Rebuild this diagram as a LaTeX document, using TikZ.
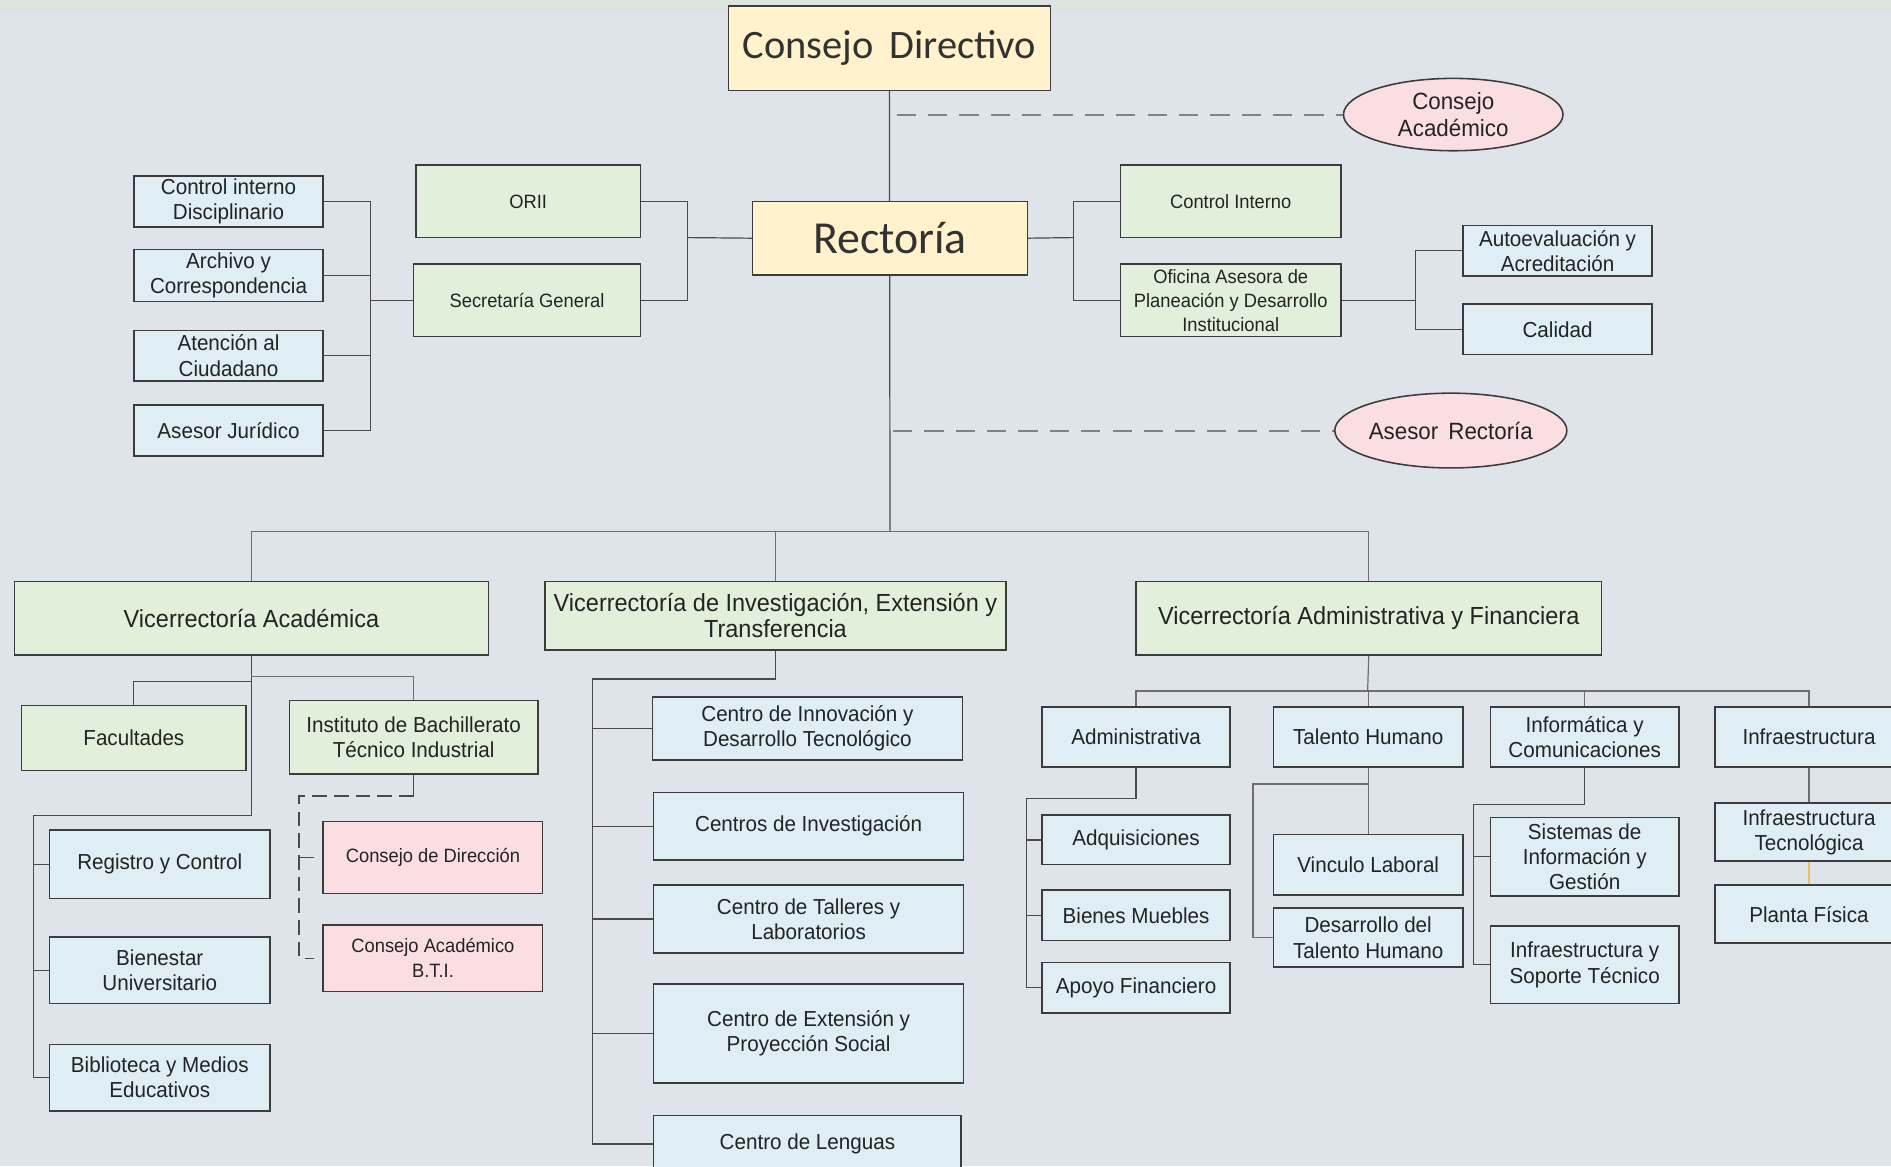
\documentclass[tikz,border=0pt]{standalone}
\usepackage{fontspec}
\setmainfont[FakeStretch=0.95]{Liberation Sans}
\newfontfamily\calfont{Carlito}
\usetikzlibrary{shapes.geometric}
\definecolor{bgc}{RGB}{223,227,234}
\definecolor{topc}{RGB}{220,229,221}
\definecolor{yel}{RGB}{255,242,204}
\definecolor{grn}{RGB}{226,239,218}
\definecolor{blu}{RGB}{222,238,244}
\definecolor{pnk}{RGB}{250,222,226}
\definecolor{edgec}{RGB}{60,60,60}
\definecolor{lnc}{RGB}{75,75,75}
\definecolor{lnl}{RGB}{110,110,110}
\definecolor{dshc}{RGB}{130,130,130}
\definecolor{txt}{RGB}{35,35,35}
\definecolor{orc}{RGB}{240,190,90}
\pgfdeclarelayer{canvas}
\pgfdeclarelayer{lines}
\pgfsetlayers{canvas,lines,main}
\newcommand\bx[7]{\node[#2, minimum width={(#5)-(#3)}, minimum height={(#6)-(#4)}] (#1) at ({((#3)+(#5))/2},{((#4)+(#6))/2}) {#7};}
\begin{document}
\begin{tikzpicture}[x=1pt,y=-1pt,
  obox/.style={draw=edgec, line width=1.3pt, inner sep=1pt, outer sep=0pt, align=center, text=txt, font=\fontsize{18}{21}\selectfont},
  gbox/.style={obox, fill=grn},
  bbox/.style={obox, fill=blu},
  pbox/.style={obox, fill=pnk, font=\fontsize{16}{21}\selectfont},
  sbox/.style={gbox, font=\fontsize{16}{20}\selectfont},
  vbox/.style={gbox, font=\fontsize{20.5}{22}\selectfont},
  ybox/.style={obox, fill=yel, text={rgb,255:red,50;green,50;blue,50}},
  oval/.style={ellipse, draw=edgec, line width=1.3pt, fill=pnk, inner sep=0pt, outer sep=0pt, align=center, text=txt, font=\fontsize{19.5}{22}\selectfont},
  conn/.style={draw=lnc, line width=1pt},
  connl/.style={draw=lnl, line width=1pt},
  dconn/.style={draw=dshc, line width=1.6pt, dash pattern=on 16pt off 10pt},
  iconn/.style={draw=lnc, line width=1.1pt, dash pattern=on 12pt off 6pt}
]
\useasboundingbox (0,0) rectangle (1568,967);
\begin{pgfonlayer}{canvas}
\fill[bgc] (0,0) rectangle (1568,967);
\fill[topc] (0,0) rectangle (1568,10);
\end{pgfonlayer}
\begin{scope}
\clip (0,0) rectangle (1568,967);
% top
\bx{CD}{ybox, font=\calfont\fontsize{33.5}{36}\selectfont}{604}{5}{871}{75}{Consejo\ \,Directivo}
\bx{R}{ybox, font=\calfont\fontsize{38}{40}\selectfont}{624}{167}{852}{228}{Rectoría}
\node[oval, minimum width=182, minimum height=60] (CA) at (1205,95) {Consejo\\Académico};
\node[oval, minimum width=183, minimum height=62] (AR) at (1203,357) {Asesor\ \,Rectoría};
% left
\bx{ORII}{sbox}{345}{137}{531}{197}{ORII}
\bx{SG}{sbox}{343}{219}{531}{279}{Secretaría General}
\bx{CID}{bbox}{111}{146}{268}{188}{Control interno\\Disciplinario}
\bx{ACO}{bbox}{111}{207}{268}{250}{Archivo y\\Correspondencia}
\bx{AC}{bbox}{111}{274}{268}{316}{Atención al\\Ciudadano}
\bx{AJ}{bbox}{111}{336}{268}{378}{Asesor Jurídico}
% right
\bx{CI}{sbox}{929}{137}{1112}{197}{Control Interno}
\bx{OA}{sbox}{929}{219}{1112}{279}{Oficina Asesora de\\Planeación y Desarrollo\\Institucional}
\bx{AUT}{bbox}{1213}{187}{1370}{229}{Autoevaluación y\\Acreditación}
\bx{CAL}{bbox}{1213}{252}{1370}{294}{Calidad}
% vicerrectorias
\bx{VA}{vbox}{12}{482}{405}{543}{Vicerrectoría Académica}
\bx{VIET}{vbox}{452}{482}{834}{539}{Vicerrectoría de Investigación, Extensión y\\Transferencia}
\bx{VAF}{vbox}{942}{482}{1328}{543}{Vicerrectoría Administrativa y Financiera}
% VA children
\bx{FAC}{gbox}{18}{585}{204}{639}{Facultades}
\bx{INS}{gbox}{240}{581}{446}{642}{Instituto de Bachillerato\\Técnico Industrial}
\bx{REG}{bbox}{41}{688}{224}{745}{Registro y Control}
\bx{BIE}{bbox}{41}{777}{224}{832}{Bienestar\\Universitario}
\bx{BIB}{bbox}{41}{866}{224}{921}{Biblioteca y Medios\\Educativos}
\bx{CDIR}{pbox}{268}{681}{450}{741}{Consejo de Dirección}
\bx{CABTI}{pbox}{268}{767}{450}{822}{Consejo Académico\\B.T.I.}
% VIET children
\bx{CIDT}{bbox}{541}{578}{798}{630}{Centro de Innovación y\\Desarrollo Tecnológico}
\bx{CINV}{bbox}{542}{657}{799}{713}{Centros de Investigación}
\bx{CTL}{bbox}{542}{734}{799}{790}{Centro de Talleres y\\Laboratorios}
\bx{CEPS}{bbox}{542}{816}{799}{898}{Centro de Extensión y\\Proyección Social}
\bx{CLEN}{bbox}{542}{925}{797}{972}{Centro de Lenguas}
% VAF children
\bx{ADM}{bbox}{864}{586}{1020}{636}{Administrativa}
\bx{TH}{bbox}{1056}{586}{1213}{636}{Talento Humano}
\bx{IC}{bbox}{1236}{586}{1392}{636}{Informática y\\Comunicaciones}
\bx{INF}{bbox}{1422}{586}{1578}{636}{Infraestructura}
\bx{ADQ}{bbox}{864}{676}{1020}{717}{Adquisiciones}
\bx{BM}{bbox}{864}{738}{1020}{780}{Bienes Muebles}
\bx{AF}{bbox}{864}{798}{1020}{840}{Apoyo Financiero}
\bx{VL}{bbox}{1056}{692}{1213}{742}{Vinculo Laboral}
\bx{DTH}{bbox}{1056}{753}{1213}{802}{Desarrollo del\\Talento Humano}
\bx{SIG}{bbox}{1236}{678}{1392}{743}{Sistemas de\\Información y\\Gestión}
\bx{IST}{bbox}{1236}{768}{1392}{832}{Infraestructura y\\Soporte Técnico}
\bx{IT}{bbox}{1422}{666}{1578}{714}{Infraestructura\\Tecnológica}
\bx{PF}{bbox}{1422}{734}{1578}{782}{Planta Física}
\end{scope}
\begin{pgfonlayer}{lines}
% spine
\coordinate (bus) at (738,441);
\draw[conn] (CD.south) -- (bus);
\draw[dconn] ([xshift=6pt]CD.south |- CA.west) -- (CA.west);
\draw[dconn] ([xshift=3pt]CD.south |- AR.west) -- (AR.west);
% left of Rectoria
\coordinate (jL) at (570,197);
\draw[conn] (R.west) -- (jL);
\draw[conn] (ORII.east) -| (jL);
\draw[conn] (SG.east) -| (jL);
\coordinate (jLL) at (307,249);
\draw[conn] (SG.west) -- (jLL);
\draw[conn] (CID.east) -| (jLL);
\draw[conn] (ACO.east) -| (jLL);
\draw[conn] (AC.east) -| (jLL);
\draw[conn] (AJ.east) -| (jLL);
% right of Rectoria
\coordinate (jR) at (890,197);
\draw[conn] (R.east) -- (jR);
\draw[conn] (CI.west) -| (jR);
\draw[conn] (OA.west) -| (jR);
\coordinate (jRR) at (1174,249);
\draw[conn] (OA.east) -- (jRR);
\draw[conn] (AUT.west) -| (jRR);
\draw[conn] (CAL.west) -| (jRR);
% bus
\draw[connl] (VA.north) |- (bus);
\draw[connl] (VAF.north) |- (bus);
\draw[connl] (VIET.north) -- (VIET.north |- bus);
% VA children
\coordinate (vaL) at (28,676);
\draw[conn] (VA.south) |- (vaL) -- (vaL |- BIB.west) -- (BIB.west);
\draw[conn] (REG.west) -- (REG.west -| vaL);
\draw[conn] (BIE.west) -- (BIE.west -| vaL);
\draw[conn] (FAC.north) -- ++(0,-20) coordinate (fa1) -- (fa1 -| VA.south);
\draw[connl] (INS.north) -- ++(0,-20) coordinate (in1) -- (in1 -| VA.south);
\draw[conn] (INS.south) -- ++(0,18) coordinate (in2);
\coordinate (insL) at (248,660);
\draw[iconn] (in2) -- (insL) -- (insL |- CABTI.west) -- ++(12,0);
\draw[conn] (insL |- CDIR.west) -- ++(12,0);
% VIET children
\coordinate (vietL) at (491,563);
\draw[conn] (VIET.south) |- (vietL) -- (vietL |- CLEN.west) -- (CLEN.west);
\draw[conn] (CIDT.west) -- (CIDT.west -| vietL);
\draw[conn] (CINV.west) -- (CINV.west -| vietL);
\draw[conn] (CTL.west) -- (CTL.west -| vietL);
\draw[conn] (CEPS.west) -- (CEPS.west -| vietL);
% VAF children
\coordinate (vafb) at (1134,573);
\draw[connl] (VAF.south) -- (vafb);
\draw[connl] (ADM.north) -- (ADM.north |- vafb) -- (INF.north |- vafb) -- (INF.north);
\draw[connl] (TH.north) -- (TH.north |- vafb);
\draw[connl] (IC.north) -- (IC.north |- vafb);
\coordinate (admL) at (851,662);
\draw[conn] (ADM.south) |- (admL) -- (admL |- AF.west) -- (AF.west);
\draw[conn] (ADQ.west) -- (ADQ.west -| admL);
\draw[conn] (BM.west) -- (BM.west -| admL);
\coordinate (thL) at (1039,650);
\draw[connl] (TH.south) -- (VL.north);
\draw[connl] (TH.south |- thL) -- (thL) -- (thL |- DTH.west) -- (DTH.west);
\coordinate (icL) at (1222,667);
\draw[conn] (IC.south) |- (icL) -- (icL |- IST.west) -- (IST.west);
\draw[conn] (SIG.west) -- (SIG.west -| icL);
\draw[connl] (INF.south) -- (IT.north);
\draw[draw=orc, line width=1pt] (IT.south) -- (PF.north);
\end{pgfonlayer}
\end{tikzpicture}
\end{document}
